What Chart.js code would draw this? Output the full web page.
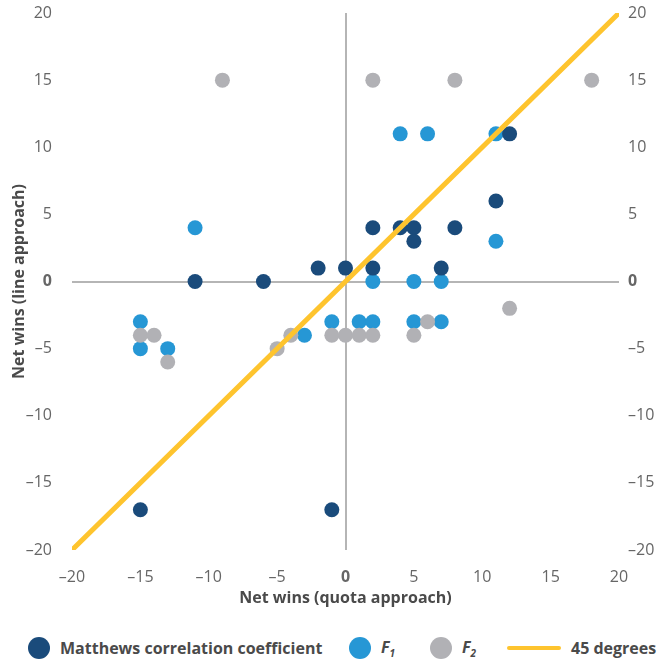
<!DOCTYPE html>
<html>
<head>
<meta charset="utf-8">
<script src="https://cdn.jsdelivr.net/npm/chart.js@4/dist/chart.umd.min.js"></script>
<style>
  body { margin: 0; background: #fff; font-family: "Open Sans", sans-serif; }
  #wrap { position: relative; width: 659px; height: 663px; }
  #box { position: absolute; left: 0; top: 0; width: 659px; height: 625px; }
  #legend { position: absolute; left: 0; top: 636px; width: 659px; height: 24px;
            font-size: 16px; font-weight: 700; color: #4a4a4a; white-space: nowrap; }
  #legend .item { position: absolute; top: 0; height: 24px; display: flex; align-items: center; }
  #legend .dot { width: 22px; height: 22px; border-radius: 50%; margin-right: 10px; }
  #legend .bar { width: 54px; height: 4px; border-radius: 2px; margin-right: 10px; }
  #legend sub { font-size: 10px; vertical-align: -4px; }
</style>
</head>
<body>
<div id="wrap">
  <div id="box"><canvas id="canvas"></canvas></div>
  <div id="legend"></div>
</div>
<script>
// Matthews correlation coefficient
var mccX = [-11, -6, -2, 0, 2, 2, 4, 5, 5, 8, 7, 11, 12, -15, -1];
var mccY = [0, 0, 1, 1, 1, 4, 4, 4, 3, 4, 1, 6, 11, -17, -17];
// F1
var f1X = [-11, -15, -15, -13, -3, -1, 1, 2, 5, 7, 2, 5, 7, 4, 6, 11, 11];
var f1Y = [4, -3, -5, -5, -4, -3, -3, -3, -3, -3, 0, 0, 0, 11, 11, 11, 3];
// F2
var f2X = [-9, 2, 8, 18, 12, -15, -14, -13, -5, -4, -1, 0, 1, 2, 5, 6];
var f2Y = [15, 15, 15, 15, -2, -4, -4, -6, -5, -4, -4, -4, -4, -4, -4, -3];
// 45 degree reference
var lineX = [-20, 20];
var lineY = [-20, 20];

var axisTicks = [-20, -15, -10, -5, 0, 5, 10, 15, 20];

function pts(xs, ys) {
  return xs.map(function (x, i) { return { x: x, y: ys[i] }; });
}

var navy = '#1a4b7b';
var blue = '#2697d5';
var grey = '#b1b1b5';
var yellow = '#fec42e';
var zeroLine = '#b5b5b5';

function tickFont(ctx) {
  return { family: 'Open Sans', size: 16, weight: ctx.tick && ctx.tick.value === 0 ? '700' : '400' };
}
function tickLabel(v) {
  return v < 0 ? '\u2013' + Math.abs(v) : String(v);
}
function fixTicks(axis) {
  axis.ticks = axisTicks.map(function (v) { return { value: v }; });
}
function zeroGrid(c) {
  return c.tick && c.tick.value === 0 ? zeroLine : 'transparent';
}
// fixed axis widths, no extra label padding at the ends
function fitY(w) {
  return function (s) {
    s.width = w;
    s.paddingTop = 0;
    s.paddingBottom = 0;
  };
}

var ctx = document.getElementById('canvas').getContext('2d');
var myChart = new Chart(ctx, {
  type: 'scatter',
  data: {
    datasets: [
      { label: 'Matthews correlation coefficient', data: pts(mccX, mccY), backgroundColor: navy,
        borderWidth: 0, pointRadius: 7.5, order: 2 },
      { label: 'F1', data: pts(f1X, f1Y), backgroundColor: blue,
        borderWidth: 0, pointRadius: 7.5, order: 3 },
      { label: 'F2', data: pts(f2X, f2Y), backgroundColor: grey,
        borderWidth: 0, pointRadius: 7.5, order: 1 },
      { label: '45 degrees', type: 'line', data: pts(lineX, lineY), borderColor: yellow,
        borderWidth: 5, borderCapStyle: 'round', pointRadius: 0, showLine: true, order: 0 }
    ]
  },
  options: {
    responsive: true,
    maintainAspectRatio: false,
    animation: false,
    events: [],
    layout: { autoPadding: false, padding: { left: 10, right: 0, top: 13, bottom: 17 } },
    plugins: {
      legend: { display: false },
      tooltip: { enabled: false }
    },
    scales: {
      x: {
        type: 'linear', min: -20, max: 20,
        afterBuildTicks: fixTicks,
        afterFit: function (s) { s.height = 58; },
        grid: { drawTicks: false, lineWidth: 2, color: zeroGrid },
        border: { display: false },
        ticks: { padding: 18, color: '#666', font: tickFont, callback: tickLabel },
        title: { display: true, text: 'Net wins (quota approach)', color: '#4a4a4a',
                 font: { family: 'Open Sans', size: 16, weight: '700' }, padding: 0 }
      },
      y: {
        type: 'linear', min: -20, max: 20, position: 'left',
        afterBuildTicks: fixTicks,
        afterFit: fitY(62),
        grid: { drawTicks: false, lineWidth: 2, color: zeroGrid },
        border: { display: false },
        ticks: { padding: 20, color: '#666', font: tickFont, callback: tickLabel },
        title: { display: true, text: 'Net wins (line approach)', color: '#4a4a4a',
                 font: { family: 'Open Sans', size: 16, weight: '700' }, padding: 0 }
      },
      y2: {
        type: 'linear', min: -20, max: 20, position: 'right',
        afterBuildTicks: fixTicks,
        afterFit: fitY(40),
        grid: { display: false, drawTicks: false },
        border: { display: false },
        ticks: { padding: 9, color: '#666', font: tickFont, callback: tickLabel }
      }
    }
  }
});

// legend in dataset order
var legendLeft = [28, 349, 430, 507];
var names = {
  'F1': '<i>F</i><sub><i>1</i></sub>',
  'F2': '<i>F</i><sub><i>2</i></sub>'
};
var legendHtml = '';
myChart.data.datasets.forEach(function (ds, i) {
  var mark = ds.type === 'line'
    ? '<span class="bar" style="background:' + ds.borderColor + '"></span>'
    : '<span class="dot" style="background:' + ds.backgroundColor + '"></span>';
  legendHtml += '<span class="item" style="left:' + legendLeft[i] + 'px">' + mark +
    '<span>' + (names[ds.label] || ds.label) + '</span></span>';
});
document.getElementById('legend').innerHTML = legendHtml;
</script>
</body>
</html>
